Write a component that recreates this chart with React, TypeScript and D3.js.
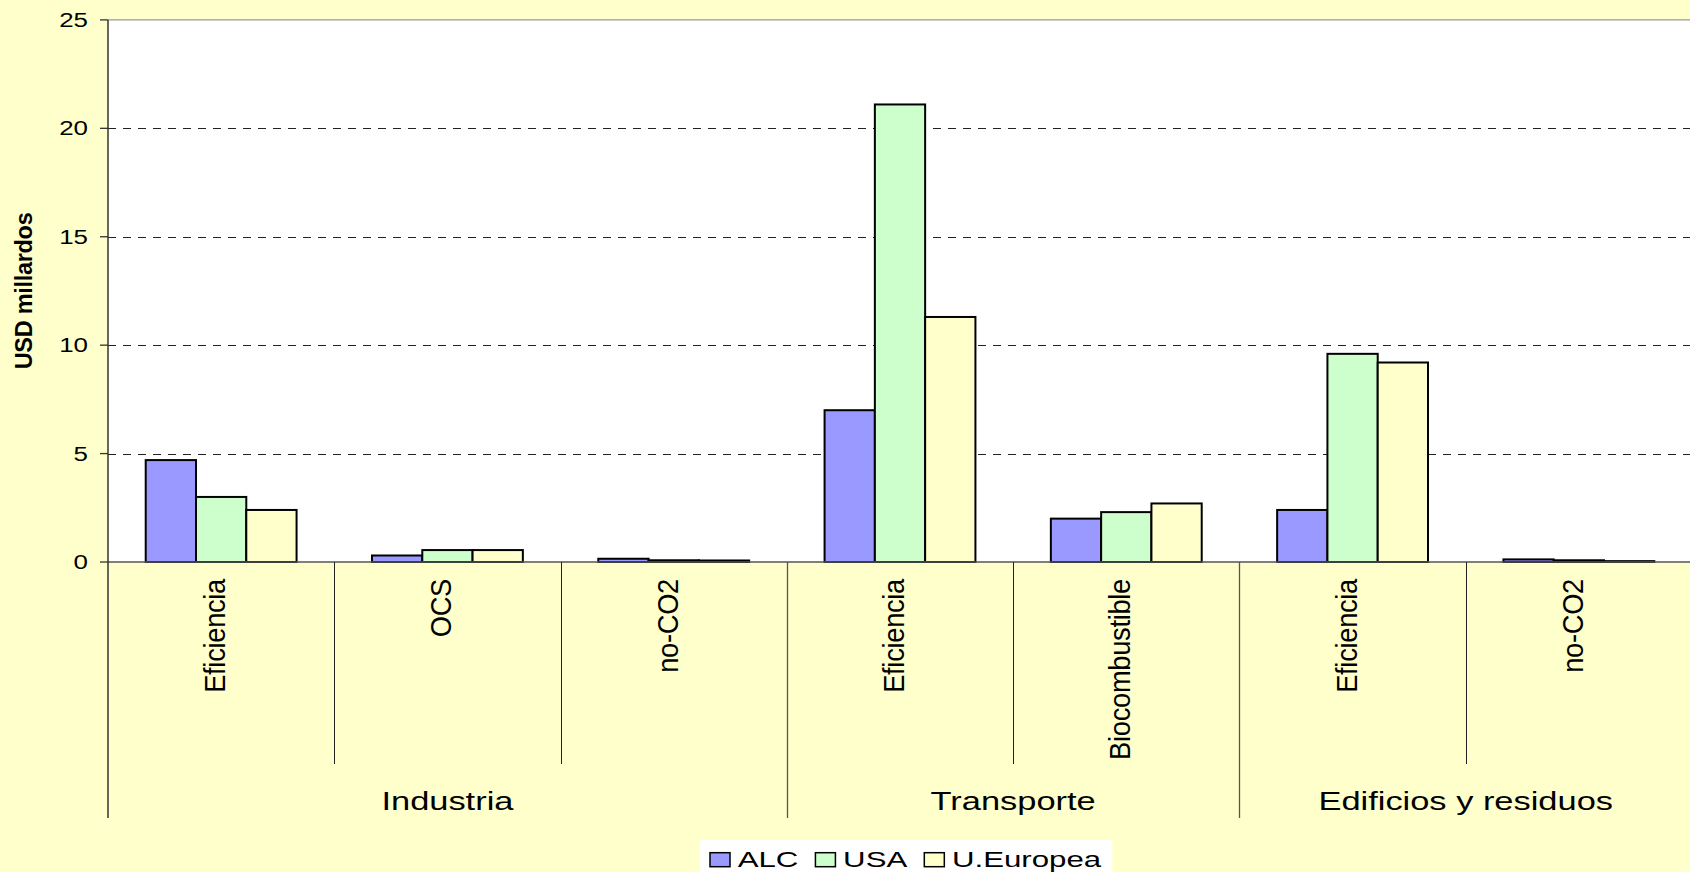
import React from "react";
import * as d3 from "d3";

const categories = ["Eficiencia", "OCS", "no-CO2", "Eficiencia", "Biocombustible", "Eficiencia", "no-CO2"];
const groups = ["Industria", "Transporte", "Edificios y residuos"];
const groupSizes = [3, 2, 2];
const seriesNames = ["ALC", "USA", "U.Europea"];
const alc = [4.7, 0.3, 0.15, 7.0, 2.0, 2.4, 0.12];
const usa = [3.0, 0.55, 0.08, 21.1, 2.3, 9.6, 0.08];
const ue = [2.4, 0.55, 0.07, 11.3, 2.7, 9.2, 0.04];
const yTicks = [0, 5, 10, 15, 20, 25];
const yTitle = "USD millardos";

const seriesValues = [alc, usa, ue];
const colors = ["#9999FF", "#CCFFCC", "#FFFFCC"];

const W = 1690;
const H = 872;
const FONT = "'Liberation Sans', Arial, Helvetica, sans-serif";

function measure(text: string, size: number, weight = "normal") {
  const c = document.createElement("canvas");
  const ctx = c.getContext("2d");
  if (!ctx) return text.length * size * 0.55;
  ctx.font = `${weight} ${size}px ${FONT}`;
  return ctx.measureText(text).width;
}

export default function App() {
  const left = 108;
  const right = 1692;
  const top = 19.9;
  const bottom = 562;
  const innerDivBottom = 764;
  const outerDivBottom = 818;

  const x = d3
    .scaleBand<number>()
    .domain(categories.map((_, i) => i))
    .range([left, right])
    .paddingInner(0)
    .paddingOuter(0);
  const bw = x.bandwidth();
  const xs = d3
    .scaleBand<number>()
    .domain(seriesNames.map((_, i) => i))
    .range([0, bw])
    .paddingInner(0)
    .paddingOuter(0.75);
  const y = d3.scaleLinear().domain([0, 25]).range([bottom, top]);

  const groupStarts: number[] = [];
  let acc = 0;
  groupSizes.forEach((s) => {
    groupStarts.push(acc);
    acc += s;
  });

  const stretch = 1.33;

  const legFont = 22.3;
  const legStretch = 1.4;
  const legItems: { sx: number; tx: number; i: number }[] = [];
  let cur = 710;
  seriesNames.forEach((n, i) => {
    const sx = cur;
    const tx = sx + 27.7;
    legItems.push({ sx, tx, i });
    cur = tx + measure(n, legFont) * legStretch + 17;
  });
  const legRight = cur - 17 + 11;

  return (
    <div style={{ position: "absolute", left: 0, top: 0 }}>
      <svg width={W} height={H} style={{ display: "block" }} fontFamily={FONT}>
        <rect x={0} y={0} width={W} height={H} fill="#FFFFCC" />
        <rect x={left} y={top} width={right - left} height={bottom - top} fill="#FFFFFF" />
        <line x1={left} x2={right} y1={top} y2={top} stroke="#999" strokeWidth={1.2} />
        {yTicks
          .filter((t) => t > 0 && t < 25)
          .map((t) => (
            <line
              key={"g" + t}
              x1={left}
              x2={right}
              y1={Math.round(y(t)) + 0.5}
              y2={Math.round(y(t)) + 0.5}
              stroke="#222"
              strokeWidth={1}
              strokeDasharray="8,7"
            />
          ))}
        {categories.map((_, ci) =>
          seriesValues.map((vals, si) => {
            const x0 = (x(ci) ?? 0) + (xs(si) ?? 0);
            const v = vals[ci];
            return (
              <rect
                key={`b${ci}-${si}`}
                x={x0}
                y={y(v)}
                width={xs.bandwidth()}
                height={bottom - y(v)}
                fill={colors[si]}
                stroke="#000"
                strokeWidth={2}
              />
            );
          })
        )}
        <line x1={left} x2={right} y1={bottom} y2={bottom} stroke="#555" strokeWidth={1.5} />
        <line x1={left} x2={left} y1={top} y2={outerDivBottom} stroke="#333" strokeWidth={1.5} />
        {yTicks.map((t) => (
          <g key={"t" + t}>
            <line x1={left - 8} x2={left} y1={y(t)} y2={y(t)} stroke="#333" strokeWidth={1.3} />
            <text
              transform={`translate(88,${y(t) + 7}) scale(${stretch},1)`}
              textAnchor="end"
              fontSize={19.5}
              fill="#000"
            >
              {t}
            </text>
          </g>
        ))}
        {categories.map((_, ci) => {
          if (ci === 0) return null;
          const isGroup = groupStarts.includes(ci);
          const xx = Math.round(x(ci) ?? 0) + 0.5;
          return (
            <line
              key={"d" + ci}
              x1={xx}
              x2={xx}
              y1={bottom}
              y2={isGroup ? outerDivBottom : innerDivBottom}
              stroke={isGroup ? "#555" : "#222"}
              strokeWidth={isGroup ? 1.3 : 1}
            />
          );
        })}
        <line x1={right - 0.5} x2={right - 0.5} y1={top} y2={outerDivBottom} stroke="#555" strokeWidth={1.3} />
        {categories.map((c, ci) => {
          const cx = (x(ci) ?? 0) + bw / 2;
          return (
            <text
              key={"c" + ci}
              transform={`translate(${cx + 4},579) rotate(-90) scale(1,1.08)`}
              textAnchor="end"
              fontSize={27.3}
              letterSpacing={-0.3}
              fill="#000"
            >
              {c}
            </text>
          );
        })}
        {groups.map((g, gi) => {
          const s = groupStarts[gi];
          const e = s + groupSizes[gi];
          const gx = ((x(s) ?? 0) + (x(e - 1) ?? 0) + bw) / 2;
          return (
            <text
              key={"gr" + gi}
              transform={`translate(${gx},810) scale(1.35,1)`}
              textAnchor="middle"
              fontSize={25.5}
              fill="#000"
            >
              {g}
            </text>
          );
        })}
        <text
          transform={`translate(32,${(top + bottom) / 2}) rotate(-90)`}
          textAnchor="middle"
          fontSize={23.5}
          fontWeight="bold"
          letterSpacing={-0.3}
          fill="#000"
        >
          {yTitle}
        </text>
        <rect x={700} y={840} width={legRight - 700} height={40} fill="#FFFFFF" />
        {legItems.map((it) => (
          <g key={"l" + it.i}>
            <rect
              x={it.sx}
              y={852.7}
              width={20}
              height={14}
              fill={colors[it.i]}
              stroke="#000"
              strokeWidth={1.5}
            />
            <text
              transform={`translate(${it.tx},866.7) scale(${legStretch},1)`}
              fontSize={legFont}
              fill="#000"
            >
              {seriesNames[it.i]}
            </text>
          </g>
        ))}
      </svg>
    </div>
  );
}
